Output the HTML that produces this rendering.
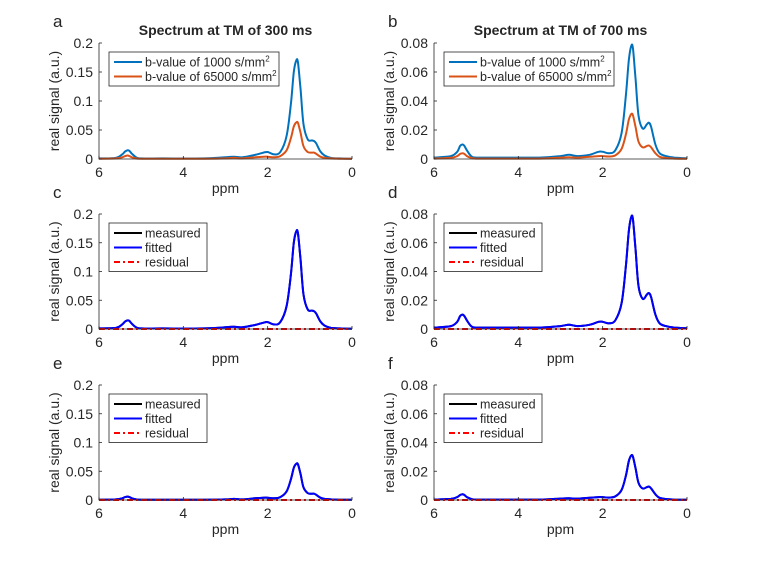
<!DOCTYPE html>
<html><head><meta charset="utf-8"><style>
body{margin:0;background:#fff;}
svg text{font-family:"Liberation Sans",sans-serif;fill:#262626;}
</style></head><body>
<svg id="fig" width="759" height="570" viewBox="0 0 759 570" xmlns="http://www.w3.org/2000/svg"></svg>
<script>
const ppm = [6,5.6,5.45,5.38,5.32,5.28,5.22,5.12,5.0,4.5,3.5,3.0,2.8,2.6,2.3,2.1,2.0,1.85,1.7,1.55,1.45,1.38,1.32,1.28,1.22,1.15,1.05,0.95,0.9,0.85,0.75,0.65,0.5,0.3,0];
const s300b1000 = [0.001,0.002,0.008,0.013,0.015,0.014,0.009,0.003,0.001,0.001,0.001,0.003,0.004,0.003,0.007,0.011,0.012,0.008,0.012,0.04,0.095,0.15,0.17,0.166,0.12,0.06,0.034,0.032,0.031,0.027,0.013,0.006,0.002,0.001,0.0005];
const s300b65000 = [0.0005,0.001,0.003,0.005,0.006,0.005,0.003,0.001,0.0005,0.0005,0.0005,0.001,0.002,0.001,0.003,0.004,0.004,0.003,0.005,0.015,0.036,0.056,0.063,0.062,0.045,0.022,0.012,0.011,0.011,0.009,0.004,0.002,0.001,0.0005,0.0003];
const s700b1000 = [0.001,0.002,0.005,0.009,0.010,0.009,0.006,0.002,0.001,0.001,0.001,0.002,0.003,0.002,0.003,0.005,0.005,0.004,0.006,0.018,0.044,0.068,0.078,0.076,0.055,0.03,0.021,0.024,0.025,0.022,0.01,0.004,0.002,0.001,0.0005];
const s700b65000 = [0.0003,0.0008,0.002,0.0035,0.004,0.0035,0.002,0.0008,0.0003,0.0003,0.0003,0.001,0.0012,0.001,0.0015,0.002,0.002,0.0017,0.0025,0.007,0.017,0.027,0.031,0.030,0.022,0.012,0.008,0.009,0.0093,0.008,0.004,0.0015,0.0007,0.0003,0.0002];
const xTicks = [6,4,2,0];
const yTicks300 = [0,0.05,0.1,0.15,0.2];
const yTickLabels300 = ["0","0.05","0.1","0.15","0.2"];
const yTicks700 = [0,0.02,0.04,0.06,0.08];
const yTickLabels700 = ["0","0.02","0.04","0.06","0.08"];

const NS="http://www.w3.org/2000/svg";
const svg=document.getElementById('fig');
function mk(tag,attrs,parent){const e=document.createElementNS(NS,tag);for(const k in attrs)e.setAttribute(k,attrs[k]);(parent||svg).appendChild(e);return e;}
function txt(s,attrs,parent){const e=mk('text',attrs,parent);e.textContent=s;return e;}
function pathD(xs,ys){
  const P=xs.map((x,i)=>[x,ys[i]]);let d=`M${P[0][0].toFixed(1)},${P[0][1].toFixed(1)}`;
  for(let i=0;i<P.length-1;i++){const p0=P[Math.max(0,i-1)],p1=P[i],p2=P[i+1],p3=P[Math.min(P.length-1,i+2)];
    const c1=[p1[0]+(p2[0]-p0[0])/6,p1[1]+(p2[1]-p0[1])/6],c2=[p2[0]-(p3[0]-p1[0])/6,p2[1]-(p3[1]-p1[1])/6];
    d+=` C${c1[0].toFixed(1)},${c1[1].toFixed(1)} ${c2[0].toFixed(1)},${c2[1].toFixed(1)} ${p2[0].toFixed(1)},${p2[1].toFixed(1)}`;}
  return d;}

function panel(o){
  const g=mk('g',{});
  
  
  const L=o.left,R=o.left+253,T=o.top,B=o.bottom;
  const xs=v=>L+(6-v)/6*(R-L), ys=v=>B-v/o.ymax*(B-T);
  const lt=txt(o.letter,{x:o.left-46,y:o.top-16,'font-size':17},g);
  
  
  if(o.title){const t=txt(o.title,{x:(L+R)/2,y:o.top-8,'font-size':14,'font-weight':'bold','text-anchor':'middle',fill:'#000'},g);
    
    }
  o.series.forEach(s=>{
    const px=ppm.map(xs),py=s.vals.map(ys);
    const p=mk('path',{d:pathD(px,py),fill:'none',stroke:s.color,'stroke-width':2,'stroke-dasharray':s.dash||'none'},g);
    
    
  });
  const ax=mk('path',{d:`M${L},${T} L${L},${B} L${R},${B}`,fill:'none',stroke:'#262626','stroke-width':0.8},g);
  
  
  xTicks.forEach(v=>{const x=xs(v);mk('line',{x1:x,y1:B,x2:x,y2:B-3,stroke:'#262626','stroke-width':0.8},g);
    const t=txt(String(v),{x:x,y:B+18,'font-size':14,'text-anchor':'middle'},g);
    
    });
  o.yt.forEach((v,i)=>{const y=ys(v);mk('line',{x1:L,y1:y,x2:L+3,y2:y,stroke:'#262626','stroke-width':0.8},g);
    const t=txt(o.ytl[i],{x:L-6,y:y+5,'font-size':14,'text-anchor':'end'},g);
    
    });
  const xl=txt('ppm',{x:(L+R)/2,y:B+34,'font-size':14,'text-anchor':'middle'},g);
  
  
  const yl=txt('real signal (a.u.)',{x:0,y:0,'font-size':14,'text-anchor':'middle',transform:`translate(${L-40},${(T+B)/2}) rotate(-90)`},g);
  
  
  const lg=mk('g',{},g);
  
  
  const lx=L+10,ly=T+9,lh=o.series.length*14.5+5;
  mk('rect',{x:lx,y:ly,width:o.legW,height:lh,fill:'#fff',stroke:'#262626','stroke-width':0.8},lg);
  o.series.slice().sort((a,b)=>a.order-b.order).forEach((s,i)=>{const y=ly+10+i*14.5;
    mk('line',{x1:lx+5,y1:y,x2:lx+33,y2:y,stroke:s.color,'stroke-width':2,'stroke-dasharray':s.dash||'none'},lg);
    const t=mk('text',{x:lx+36,y:y+4.5,'font-size':12.5},lg);
    
    
    t.textContent=s.label;
    if(s.sup){const ts=mk('tspan',{dy:-5,'font-size':8},t);ts.textContent='2';}
  });
}
const zero=ppm.map(()=>0);
const cfg=[
 {letter:'a',left:99,top:43,bottom:159,ymax:0.2,yt:yTicks300,ytl:yTickLabels300,title:'Spectrum at TM of 300 ms',legW:170,
  series:[{name:'series-b1000',vals:s300b1000,color:'#0072BD',label:'b-value of 1000 s/mm',sup:1,order:0},{name:'series-b65000',vals:s300b65000,color:'#D95319',label:'b-value of 65000 s/mm',sup:1,order:1}]},
 {letter:'b',left:434,top:43,bottom:159,ymax:0.08,yt:yTicks700,ytl:yTickLabels700,title:'Spectrum at TM of 700 ms',legW:170,
  series:[{name:'series-b1000',vals:s700b1000,color:'#0072BD',label:'b-value of 1000 s/mm',sup:1,order:0},{name:'series-b65000',vals:s700b65000,color:'#D95319',label:'b-value of 65000 s/mm',sup:1,order:1}]},
];
function fitCfg(letter,left,top,ymax,yt,ytl,data){
 return {letter,left,top,bottom:top+115,ymax,yt,ytl,legW:98,series:[
  {name:'series-measured',vals:data,color:'#000',label:'measured',order:0},
  {name:'series-fitted',vals:data,color:'#0000FF',label:'fitted',order:1},
  {name:'series-residual',vals:zero,color:'#FF0000',dash:'6,3,2,3',label:'residual',order:2}]};
}
cfg.push(fitCfg('c',99,214,0.2,yTicks300,yTickLabels300,s300b1000));
cfg.push(fitCfg('d',434,214,0.08,yTicks700,yTickLabels700,s700b1000));
cfg.push(fitCfg('e',99,385,0.2,yTicks300,yTickLabels300,s300b65000));
cfg.push(fitCfg('f',434,385,0.08,yTicks700,yTickLabels700,s700b65000));
cfg.forEach(panel);
</script>
</body></html>
